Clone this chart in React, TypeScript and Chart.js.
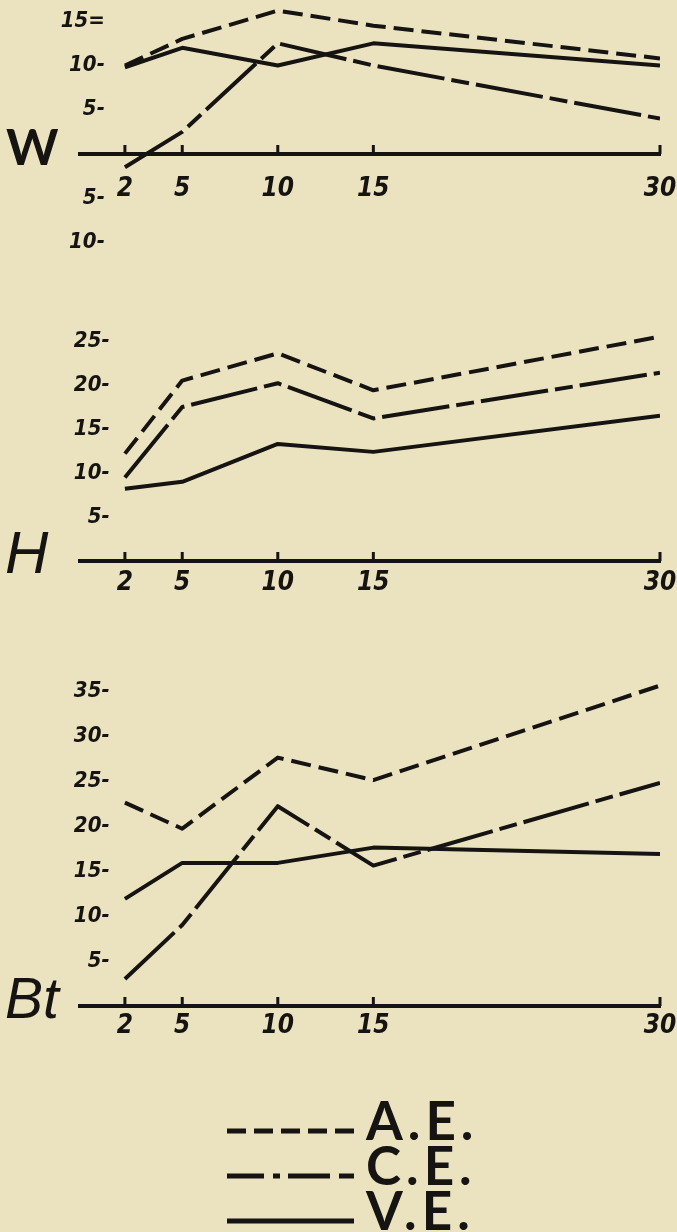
import React, { useEffect, useRef } from 'react';
import { Chart, registerables } from 'chart.js';

Chart.register(...registerables);

// ---------------- data ----------------
const days = [2, 5, 10, 15, 30];
const dayLabels = ['2', '5', '10', '15', '30'];
const seriesNames = ['A.E.', 'C.E.', 'V.E.'];

// W panel
const wAE = [10, 13, 16.2, 14.5, 10.8];
const wCE = [-1.5, 2.5, 12.5, 10, 4];
const wVE = [9.8, 12, 10, 12.5, 10];
const wTickValues = [-10, -5, 5, 10, 15];
const wTickLabels = ['10-', '5-', '5-', '10-', '15='];

// H panel
const hAE = [12.2, 20.5, 23.6, 19.4, 25.5];
const hCE = [9.5, 17.5, 20.2, 16.2, 21.4];
const hVE = [8.2, 9, 13.3, 12.4, 16.5];
const hTickValues = [5, 10, 15, 20, 25];
const hTickLabels = ['5-', '10-', '15-', '20-', '25-'];

// Bt panel
const btAE = [22.6, 19.7, 27.6, 25.1, 35.6];
const btCE = [3, 9, 22.2, 15.6, 24.8];
const btVE = [11.9, 15.9, 15.9, 17.6, 16.9];
const btTickValues = [5, 10, 15, 20, 25, 30, 35];
const btTickLabels = ['5-', '10-', '15-', '20-', '25-', '30-', '35-'];

// ---------------- styles ----------------
const INK = '#161412';
const PAPER = '#ebe3bf';
const DASHES: number[][] = [[20, 8], [68, 7, 18, 7], []];
const LEGEND_DASH = ['19 8', '37 9 7 8 42 9 15 20', 'none'];
const NUM_FONT = '"DejaVu Sans Condensed", "DejaVu Sans", sans-serif';

type PanelCfg = {
  key: string;
  ae: number[];
  ce: number[];
  ve: number[];
  tickValues: number[];
  tickLabels: string[];
  top: number;
  height: number;
  yMin: number;
  yMax: number;
  padTop: number;
  padBottom: number;
  xLabelPad: number;
  yAxisAt: number;
};

const panels: PanelCfg[] = [
  { key: 'W', ae: wAE, ce: wCE, ve: wVE, tickValues: wTickValues, tickLabels: wTickLabels,
    top: 0, height: 262, yMin: -11, yMax: 16.8, padTop: 5.3, padBottom: 10.65, xLabelPad: 20, yAxisAt: 0.95 },
  { key: 'H', ae: hAE, ce: hCE, ve: hVE, tickValues: hTickValues, tickLabels: hTickLabels,
    top: 300, height: 320, yMin: 0, yMax: 27, padTop: 23.4, padBottom: 59, xLabelPad: 7, yAxisAt: 1.2 },
  { key: 'Bt', ae: btAE, ce: btCE, ve: btVE, tickValues: btTickValues, tickLabels: btTickLabels,
    top: 650, height: 400, yMin: 0, yMax: 37, padTop: 23, padBottom: 44, xLabelPad: 5, yAxisAt: 1.2 },
];

const upTicks = {
  id: 'upTicks',
  afterDatasetsDraw(chart: any) {
    const xs = chart.scales.x;
    const ys = chart.scales.y;
    const y0 = ys.getPixelForValue(0);
    const ctx = chart.ctx;
    ctx.save();
    ctx.strokeStyle = INK;
    ctx.lineWidth = 3;
    xs.ticks.forEach((t: any) => {
      const px = xs.getPixelForValue(t.value);
      ctx.beginPath();
      ctx.moveTo(px, y0);
      ctx.lineTo(px, y0 - 9);
      ctx.stroke();
    });
    ctx.restore();
  },
};

function LinePanel({ cfg }: { cfg: PanelCfg }) {
  const ref = useRef<HTMLCanvasElement>(null);
  useEffect(() => {
    const series = [cfg.ae, cfg.ce, cfg.ve];
    const chart = new Chart(ref.current as HTMLCanvasElement, {
      type: 'line',
      data: {
        datasets: series.map((vals, i) => ({
          label: seriesNames[i],
          data: days.map((d, j) => ({ x: d, y: vals[j] })),
          borderColor: INK,
          borderWidth: 4,
          borderDash: DASHES[i],
          pointRadius: 0,
          tension: 0,
          fill: false,
          borderCapStyle: 'butt',
          borderJoinStyle: 'round',
        })) as any,
      },
      options: {
        animation: false,
        responsive: false,
        events: [],
        layout: { padding: { top: cfg.padTop, bottom: cfg.padBottom, left: 80, right: 17 } },
        plugins: { legend: { display: false }, tooltip: { enabled: false } },
        scales: {
          x: {
            type: 'linear',
            min: -0.35,
            max: 30,
            position: { y: 0 } as any,
            afterBuildTicks: (s: any) => { s.ticks = days.map((v) => ({ value: v })); },
            afterFit: (s: any) => { s.paddingLeft = 0; s.paddingRight = 0; s.paddingTop = 0; s.paddingBottom = 0; },
            ticks: {
              callback: (v: any) => dayLabels[days.indexOf(Number(v))] ?? '',
              padding: cfg.xLabelPad,
              autoSkip: false,
              maxRotation: 0,
              minRotation: 0,
              color: INK,
              font: { family: NUM_FONT, style: 'italic', weight: 'bold', size: 26 },
            },
            grid: { display: false, drawTicks: false },
            border: { display: true, color: INK, width: 4 },
          },
          y: {
            type: 'linear',
            min: cfg.yMin,
            max: cfg.yMax,
            position: { x: cfg.yAxisAt } as any,
            afterBuildTicks: (s: any) => { s.ticks = cfg.tickValues.map((v) => ({ value: v })); },
            afterFit: (s: any) => { s.paddingLeft = 0; s.paddingRight = 0; s.paddingTop = 0; s.paddingBottom = 0; },
            ticks: {
              callback: (v: any) => cfg.tickLabels[cfg.tickValues.indexOf(Number(v))] ?? '',
              padding: 0,
              autoSkip: false,
              color: INK,
              font: { family: NUM_FONT, style: 'italic', weight: 'bold', size: 22 },
            },
            grid: { display: false, drawTicks: false },
            border: { display: false },
          },
        },
      } as any,
      plugins: [upTicks],
    });
    return () => chart.destroy();
  }, [cfg]);
  return (
    <canvas
      ref={ref}
      width={677}
      height={cfg.height}
      style={{ position: 'absolute', left: 0, top: cfg.top, width: 677, height: cfg.height }}
    />
  );
}

export default function App() {
  useEffect(() => {
    document.body.style.margin = '0';
    document.body.style.background = PAPER;
  }, []);
  return (
    <div style={{ position: 'absolute', left: 0, top: 0, width: 677, height: 1232, background: PAPER, overflow: 'hidden' }}>
      {panels.map((p) => (
        <LinePanel key={p.key} cfg={p} />
      ))}
      <svg width={677} height={1232} style={{ position: 'absolute', left: 0, top: 0, pointerEvents: 'none' }}>
        <text x={6} y={165} fontFamily="Lato" fontWeight={700} fontSize={50} fill={INK}>W</text>
        <text x={5} y={573} fontFamily="Liberation Sans" fontStyle="italic" fontSize={60} fill={INK}>H</text>
        <text x={5} y={1018} fontFamily="Liberation Sans" fontStyle="italic" fontSize={57} fill={INK}>Bt</text>
        {seriesNames.map((name, i) => (
          <g key={name}>
            <line
              x1={227}
              x2={354}
              y1={1131 + 45 * i}
              y2={1131 + 45 * i}
              stroke={INK}
              strokeWidth={5}
              strokeDasharray={LEGEND_DASH[i]}
            />
            <text x={366} y={1140 + 45 * i} fontFamily="Lato" fontWeight={700} fontSize={53} letterSpacing={5} fill={INK}>
              {name}
            </text>
          </g>
        ))}
      </svg>
    </div>
  );
}
